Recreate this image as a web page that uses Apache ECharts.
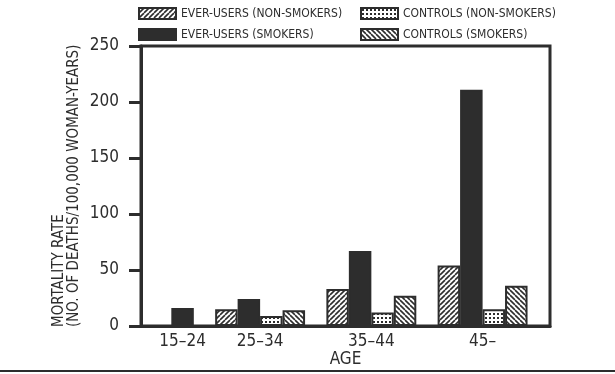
<!DOCTYPE html>
<html>
<head>
<meta charset="utf-8">
<script src="https://cdn.jsdelivr.net/npm/echarts@6/dist/echarts.min.js"></script>
<style>
  html, body { margin: 0; padding: 0; background: #fff; }
  #chart { width: 615px; height: 374px; }
</style>
</head>
<body>
<div id="chart"></div>
<script>
// ---- data ----
const categories = ['15–24', '25–34', '35–44', '45–'];
const everUsersNonSmokers = [null, 15, 33, 54];
const everUsersSmokers = [16, 24, 67, 211];
const controlsNonSmokers = [null, 9, 12, 15];
const controlsSmokers = [null, 14, 27, 36];
const yTicks = [0, 50, 100, 150, 200, 250];
const seriesNames = ['EVER-USERS (NON-SMOKERS)', 'EVER-USERS (SMOKERS)', 'CONTROLS (NON-SMOKERS)', 'CONTROLS (SMOKERS)'];

// ---- layout (not data) ----
const groupPos = [1.85, 5.3, 10.25, 15.2]; // group centres in bar-slot units
const xMax = 18.2;
const FONT = "'Liberation Sans Narrow', 'DejaVu Sans Condensed', 'Liberation Sans', sans-serif";
const INK = '#2d2d2d';

function makeHatch(dir) {
  const s = 5;
  const c = document.createElement('canvas');
  c.width = s; c.height = s;
  const g = c.getContext('2d');
  g.fillStyle = '#fff'; g.fillRect(0, 0, s, s);
  g.strokeStyle = INK; g.lineWidth = 1.6;
  for (let x = -s; x <= s; x += s) {
    g.beginPath();
    if (dir === '/') { g.moveTo(x, s); g.lineTo(x + s, 0); }
    else { g.moveTo(x, 0); g.lineTo(x + s, s); }
    g.stroke();
  }
  return { image: c, repeat: 'repeat' };
}
function makeDots() {
  const c = document.createElement('canvas');
  c.width = 4; c.height = 4;
  const g = c.getContext('2d');
  g.fillStyle = '#fff'; g.fillRect(0, 0, 4, 4);
  g.fillStyle = INK; g.fillRect(1, 1, 2, 2);
  return { image: c, repeat: 'repeat' };
}

const allSeries = [everUsersNonSmokers, everUsersSmokers, controlsNonSmokers, controlsSmokers];
const fills = [makeHatch('/'), INK, makeDots(), makeHatch('\\')];

function seriesData(si) {
  const out = [];
  categories.forEach((cat, gi) => {
    const present = allSeries.map((arr, k) => arr[gi] != null ? k : -1).filter(k => k >= 0);
    const n = present.length;
    const k = present.indexOf(si);
    if (k < 0) return;
    out.push([groupPos[gi] + (k - (n - 1) / 2), allSeries[si][gi]]);
  });
  return out;
}

const legendText = { fontFamily: FONT, fontSize: 12, color: INK };
const chart = echarts.init(document.getElementById('chart'), null, { renderer: 'canvas' });
chart.setOption({
  animation: false,
  textStyle: { fontFamily: FONT, color: INK },
  grid: { left: 141, right: 65, top: 46, bottom: 48, outerBoundsMode: 'none', containLabel: false,
    show: true, borderColor: INK, borderWidth: 3, backgroundColor: 'transparent' },
  legend: [
    { left: 138, top: 7, padding: 0, orient: 'vertical', icon: 'rect', itemWidth: 37, itemHeight: 11, itemGap: 8,
      data: [seriesNames[0], seriesNames[1]], textStyle: legendText },
    { left: 360, top: 7, padding: 0, orient: 'vertical', icon: 'rect', itemWidth: 37, itemHeight: 11, itemGap: 8,
      data: [seriesNames[2], seriesNames[3]], textStyle: legendText }
  ],
  xAxis: {
    type: 'value', min: 0, max: xMax,
    name: 'AGE', nameLocation: 'middle', nameGap: 25, nameMoveOverlap: false,
    nameTextStyle: { fontFamily: FONT, fontSize: 17, color: INK },
    axisLine: { show: true, lineStyle: { color: INK, width: 3 } },
    axisTick: { show: false },
    splitLine: { show: false },
    axisLabel: {
      customValues: groupPos,
      formatter: v => { const i = groupPos.findIndex(p => Math.abs(p - v) < 1e-6); return i >= 0 ? categories[i] : ''; },
      fontFamily: FONT, fontSize: 17, color: INK, margin: 7
    }
  },
  yAxis: {
    type: 'value', min: yTicks[0], max: yTicks[yTicks.length - 1], interval: 50,
    axisLine: { show: true, lineStyle: { color: INK, width: 3 } },
    axisTick: { show: true, inside: false, length: 12, lineStyle: { color: INK, width: 3 } },
    splitLine: { show: false },
    axisLabel: { fontFamily: FONT, fontSize: 17, color: INK, margin: 22 }
  },
  graphic: [
    { type: 'text', z: 10, rotation: Math.PI / 2, x: 52, y: 327,
      style: { text: 'MORTALITY RATE\n(NO. OF DEATHS/100,000 WOMAN-YEARS)', font: '15px ' + FONT, fill: INK,
        textAlign: 'left', textVerticalAlign: 'top', lineHeight: 15 } },
    { type: 'line', shape: { x1: 0, y1: 371, x2: 615, y2: 371 }, style: { stroke: INK, lineWidth: 2 } }
  ],
  series: seriesNames.map((name, si) => ({
    name, type: 'bar', barWidth: 22.5, barGap: '-100%',
    itemStyle: { color: fills[si], borderColor: INK, borderWidth: 2 },
    data: seriesData(si)
  }))
});
</script>
</body>
</html>
